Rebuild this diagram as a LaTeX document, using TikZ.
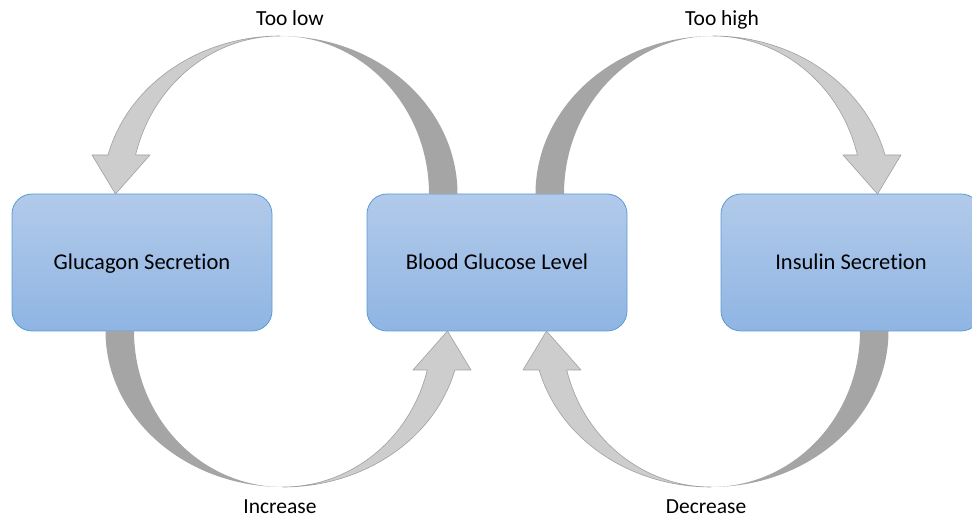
\documentclass[tikz,border=0pt]{standalone}
\usepackage{fontspec}
\setmainfont{Carlito}[Ligatures=NoCommon]
\usetikzlibrary{calc}

\definecolor{boxtop}{RGB}{178,202,234}
\definecolor{boxbot}{RGB}{143,181,227}
\definecolor{boxline}{RGB}{91,155,213}
\definecolor{backgray}{RGB}{165,165,165}
\definecolor{frontgray}{RGB}{205,205,205}
\definecolor{edgegray}{RGB}{160,160,160}

\tikzset{
  procbox/.style={draw=boxline, line width=0.8pt, rounded corners=20pt,
    top color=boxtop, bottom color=boxbot,
    minimum width=260pt, minimum height=137pt, inner sep=0pt,
    text height=19pt, text depth=4pt,
    font=\fontsize{22.5}{27}\selectfont, text=black},
  backband/.style={fill=backgray},
  frontband/.style={fill=frontgray, draw=edgegray, line width=0.6pt, line join=round},
  caption/.style={font=\fontsize{21.5}{26}\selectfont, anchor=base, inner sep=0pt}
}

% Curved block arrow: tail on the local +x side, head on the -x side,
% arching upwards in local coordinates.
% #1,#2 centre; #3 xscale; #4 yscale; #5 vertical radius
\newcommand{\bendarrow}[5]{%
  \begin{scope}[shift={(#1,#2)}, xscale=#3, yscale=#4]
    \pgfmathsetmacro\headang{180-asin(39/#5)}
    \fill[backband] (177.5,0)
      arc[start angle=0, end angle=90, x radius=177.5, y radius=#5]
      arc[start angle=90, end angle=0, x radius=149, y radius=#5] -- cycle;
    \filldraw[frontband] (0,#5)
      arc[start angle=90, end angle=\headang, x radius=177.5, y radius=#5]
      -- (-188,39) -- (-164.5,0) -- (-130,39)
      -- (\headang:149 and #5)
      arc[start angle=\headang, end angle=90, x radius=149, y radius=#5] -- cycle;
  \end{scope}}

\begin{document}
\begin{tikzpicture}[x=1pt, y=1pt]
  \useasboundingbox (0,0) rectangle (972,517);
  \clip (0,0) rectangle (972,517);

  % process boxes
  \node[procbox] (glucagon) at (142,254.5) {Glucagon Secretion};
  \node[procbox] (blood)    at (497,254.5) {Blood Glucose Level};
  \node[procbox] (insulin)  at (851,254.5) {Insulin Secretion};

  % feedback arrows
  \bendarrow{280}{323}{1}{1}{158}
  \bendarrow{713}{323}{-1}{1}{158}
  \bendarrow{283}{186}{-1}{-1}{156}
  \bendarrow{711}{186}{1}{-1}{156}

  % captions
  \node[caption] (toolow)   at (290,491) {Too low};
  \node[caption] (toohigh)  at (722,491) {Too high};
  \node[caption] (increase) at (280,4)   {Increase};
  \node[caption] (decrease) at (706,4)   {Decrease};
\end{tikzpicture}
\end{document}
